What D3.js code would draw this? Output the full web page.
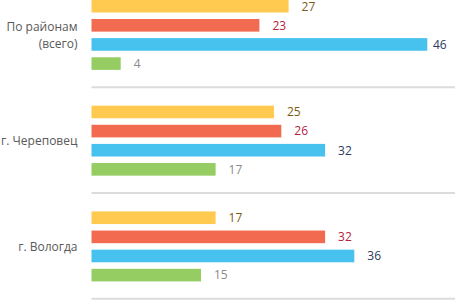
<!DOCTYPE html>
<html>
<head>
<meta charset="utf-8">
<script src="https://cdn.jsdelivr.net/npm/d3@7"></script>
<style>
  html, body { margin: 0; padding: 0; background: #fff; }
  svg { display: block; }
  text { font-family: "Open Sans", sans-serif; }
</style>
</head>
<body>
<div id="chart"></div>
<script>
// Data
const categories = ["По районам (всего)", "г. Череповец", "г. Вологда"];
const categoryLines = [["По районам", "(всего)"], ["г. Череповец"], ["г. Вологда"]];
const seriesNames = ["Ряд 1", "Ряд 2", "Ряд 3", "Ряд 4"];
const seriesValues = [
  [27, 25, 17],   // yellow
  [23, 26, 32],   // red
  [46, 32, 36],   // blue
  [4, 17, 15]     // green
];
const barColors = ["#FFCA4F", "#F26A4F", "#47C2EE", "#95CD62"];
const labelColors = ["#7A5C14", "#B4243B", "#2B3A5E", "#8A8A8A"];

const W = 455, H = 300;
const svg = d3.select("#chart").append("svg").attr("width", W).attr("height", H);

const x = d3.scaleLinear().domain([0, 50]).range([91.5, 456.5]);
const y = d3.scaleBand().domain(categories).range([-18, 299.3]).paddingInner(0).paddingOuter(0);
const yInner = d3.scaleBand().domain(seriesNames).range([0, y.bandwidth()])
  .paddingInner(0.34).paddingOuter(0.935);

// separators (bottom of each category band)
svg.append("g").selectAll("line").data(categories).join("line")
  .attr("x1", x(0)).attr("x2", W)
  .attr("y1", d => y(d) + y.bandwidth() - 0.5)
  .attr("y2", d => y(d) + y.bandwidth() - 0.5)
  .attr("stroke", "#DCDCDC").attr("stroke-width", 2);

const groups = svg.append("g").selectAll("g").data(categories).join("g")
  .attr("transform", d => `translate(0,${y(d)})`);

groups.each(function(cat, ci) {
  const g = d3.select(this);
  seriesNames.forEach((s, si) => {
    const v = seriesValues[si][ci];
    g.append("rect")
      .attr("x", x(0)).attr("y", yInner(s))
      .attr("width", x(v) - x(0)).attr("height", yInner.bandwidth())
      .attr("fill", barColors[si]);
    g.append("text")
      .attr("x", Math.min(x(v) + 13, W - 22))
      .attr("y", yInner(s) + yInner.bandwidth() / 2)
      .attr("dy", "0.36em")
      .attr("font-size", 12)
      .attr("fill", labelColors[si])
      .text(v);
  });
  const lines = categoryLines[ci];
  const lh = 17;
  const cy = y.bandwidth() / 2;
  g.append("text")
    .attr("text-anchor", "end")
    .attr("font-size", 12)
    .attr("fill", "#595959")
    .selectAll("tspan").data(lines).join("tspan")
    .attr("x", 77.5)
    .attr("y", (d, i) => cy + (i - (lines.length - 1) / 2) * lh)
    .attr("dy", "0.36em")
    .text(d => d);
});
</script>
</body>
</html>
